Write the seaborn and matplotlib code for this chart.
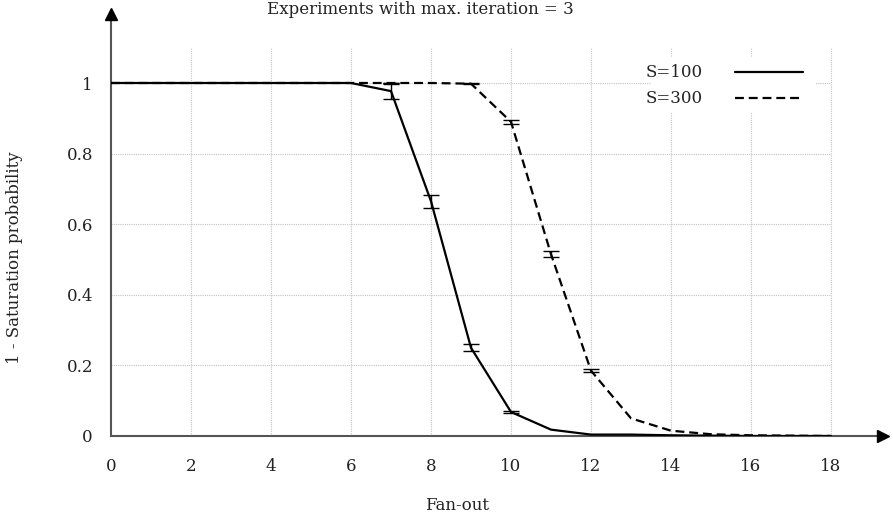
import numpy as np
import pandas as pd
import matplotlib
matplotlib.use("Agg")
import matplotlib.pyplot as plt
import seaborn as sns

fanout = list(range(0, 19))
s100 = [1.0, 1.0, 1.0, 1.0, 1.0, 1.0, 1.0, 0.977, 0.665, 0.25, 0.068, 0.018, 0.004, 0.004, 0.002, 0.001, 0.0, 0.0, 0.0]
s100_err = [0, 0, 0, 0, 0, 0, 0, 0.021, 0.018, 0.01, 0.004, 0, 0, 0, 0, 0, 0, 0, 0]
s300 = [1.0, 1.0, 1.0, 1.0, 1.0, 1.0, 1.0, 1.0, 1.0, 0.998, 0.89, 0.515, 0.185, 0.05, 0.015, 0.005, 0.002, 0.001, 0.0]
s300_err = [0, 0, 0, 0, 0, 0, 0, 0.001, 0, 0.002, 0.005, 0.009, 0.004, 0, 0, 0, 0, 0, 0]
series_names = ["S=100", "S=300"]
x_ticks = [0, 2, 4, 6, 8, 10, 12, 14, 16, 18]
y_ticks = [0, 0.2, 0.4, 0.6, 0.8, 1.0]
y_tick_labels = ["0", "0.2", "0.4", "0.6", "0.8", "1"]
title = "Experiments with max. iteration = 3"
xlabel = "Fan-out"
ylabel = "1 - Saturation probability"

df = pd.DataFrame({
    "x": fanout * 2,
    "y": s100 + s300,
    "err": s100_err + s300_err,
    "series": [series_names[0]] * len(fanout) + [series_names[1]] * len(fanout),
})

sns.set_theme(style="white")
plt.rcParams["font.family"] = ["DejaVu Serif"]
FS = 12

fig = plt.figure(figsize=(8.93, 5.21), dpi=100)
W, H = 893, 521
x0px, y0px = 111, 436
xmax, ymax = 19.3, 1.195
ax = fig.add_axes([x0px / W, (H - y0px) / H, (xmax * 40) / W, (ymax * 353) / H])

# grid lines (limited extent like the reference)
ax.vlines(x_ticks[1:], 0, 1.1, colors="#c4c4c4", linestyles=(0, (1, 1)), linewidth=0.8, zorder=0)
ax.hlines(y_ticks[1:], 0, 18, colors="#c4c4c4", linestyles=(0, (1, 1)), linewidth=0.8, zorder=0)

sns.lineplot(data=df, x="x", y="y", hue="series", style="series",
             palette=["black", "black"], dashes=[(None, None), (4, 2.2)],
             linewidth=1.6, ax=ax, legend=False, zorder=3)

for name, ys, es in [(series_names[0], s100, s100_err), (series_names[1], s300, s300_err)]:
    xs = [xi for xi, e in zip(fanout, es) if e > 0]
    yy = [yi for yi, e in zip(ys, es) if e > 0]
    ee = [e for e in es if e > 0]
    ax.errorbar(xs, yy, yerr=ee, fmt="none", ecolor="black", elinewidth=1.0,
                capsize=6, capthick=1.0, zorder=4)

ax.set_xlabel("")
ax.set_ylabel("")
ax.set_xlim(0, xmax)
ax.set_ylim(0, ymax)
ax.set_xticks(x_ticks)
ax.set_yticks(y_ticks)
ax.set_yticklabels(y_tick_labels)
ax.tick_params(axis="both", direction="in", length=7, width=1, color="black",
               labelsize=FS, labelcolor="#222222")
ax.tick_params(axis="x", pad=16)
ax.tick_params(axis="y", pad=13)

for s in ["top", "right"]:
    ax.spines[s].set_visible(False)
for s in ["left", "bottom"]:
    ax.spines[s].set_color("#555555")
    ax.spines[s].set_linewidth(1.5)

# arrowheads
ax.plot(1, 0, ">", color="black", markersize=9, transform=ax.transAxes, clip_on=False, zorder=5)
ax.plot(0, 1, "^", color="black", markersize=9, transform=ax.transAxes, clip_on=False, zorder=5)

# legend box
from matplotlib.patches import Rectangle
ax.add_patch(Rectangle((13.5, 0.915), 4.1, 0.16, facecolor="white", edgecolor="none", zorder=1))
ax.text(14.8, 1.03, series_names[0], ha="right", va="center", fontsize=FS, color="#222222", zorder=6)
ax.text(14.8, 0.957, series_names[1], ha="right", va="center", fontsize=FS, color="#222222", zorder=6)
ax.plot([15.6, 17.3], [1.03, 1.03], color="black", linewidth=1.6, zorder=6)
ax.plot([15.6, 17.3], [0.957, 0.957], color="black", linewidth=1.6, dashes=(4, 2.2), zorder=6)

fig.text(420 / W, 1 - 10 / H, title, ha="center", va="center", fontsize=FS, color="#222222")
fig.text(457 / W, 1 - 505 / H, xlabel, ha="center", va="center", fontsize=FS, color="#222222")
fig.text(15 / W, 1 - 258 / H, ylabel, ha="center", va="center", rotation=90, fontsize=FS, color="#222222")

fig.savefig("out.png", dpi=100)
